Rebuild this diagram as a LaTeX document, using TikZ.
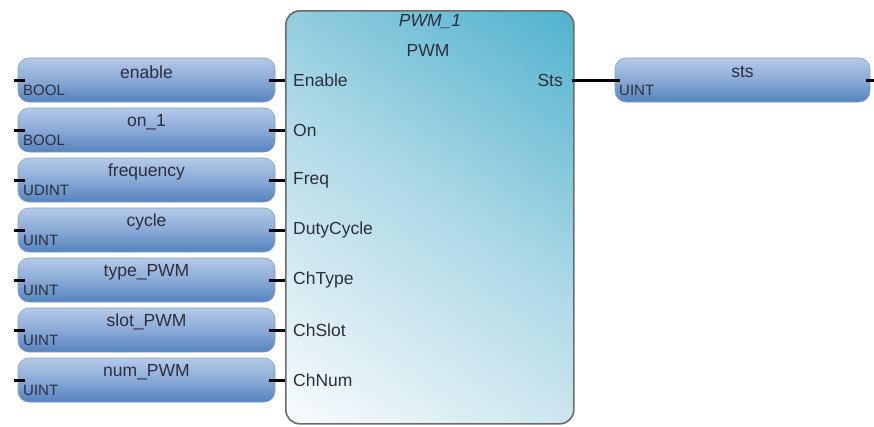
\documentclass[tikz,border=0pt]{standalone}
\usepackage{fontspec}
\setmainfont{Liberation Sans}
\definecolor{boxtop}{HTML}{B4CAE8}
\definecolor{boxmid}{HTML}{8AAAD6}
\definecolor{boxbot}{HTML}{5483BE}
\definecolor{boxedge}{HTML}{7D9DC9}
\definecolor{blkA}{HTML}{52B3CF}
\definecolor{blkM}{HTML}{AED9E6}
\definecolor{blkB}{HTML}{F8FBFD}
\definecolor{blkedge}{HTML}{6B6B6B}
\definecolor{txt}{HTML}{2E2E3C}
\pgfdeclareverticalshading{blkshade}{100bp}{color(0bp)=(blkB); color(16bp)=(blkB);
  color(52bp)=(blkM); color(84bp)=(blkA); color(100bp)=(blkA)}
\begin{document}
\begin{tikzpicture}[x=1pt,y=-1pt,
  varbox/.style={rounded corners=11pt, minimum width=257pt, minimum height=44pt,
    inner sep=0pt, top color=boxtop, bottom color=boxbot, middle color=boxmid,
    draw=boxedge, line width=0.6pt},
  block/.style={rounded corners=14pt, minimum width=288pt, minimum height=413pt,
    inner sep=0pt, shade, shading=blkshade, shading angle=-35,
    draw=blkedge, line width=1.6pt},
  nametxt/.style={text=txt, font=\fontsize{17.5}{20}\selectfont, inner sep=0pt},
  typetxt/.style={text=txt, font=\fontsize{15}{17}\selectfont, inner sep=0pt, anchor=west},
  pintxt/.style={text=txt, font=\fontsize{17.5}{20}\selectfont, inner sep=0pt},
  stub/.style={line width=3pt, black}]
\useasboundingbox (0,0) rectangle (874,426);

% function block
\node[block, anchor=north west] (blk) at (285,10) {};
\node[nametxt, font=\fontsize{17.5}{20}\selectfont\itshape] (inst) at (430,22) {PWM\_1};
\node[nametxt] (fb) at (428,50) {PWM};

% inputs
\foreach \nm/\ty/\pin [count=\i] in {enable/BOOL/Enable, on\_1/BOOL/On,
  frequency/UDINT/Freq, cycle/UINT/DutyCycle, type\_PWM/UINT/ChType,
  slot\_PWM/UINT/ChSlot, num\_PWM/UINT/ChNum} {
  \pgfmathsetmacro\yy{80+50*(\i-1)}
  \node[varbox] (v\i) at (146.5,\yy) {};
  \node[nametxt] (n\i) at (146.5,\yy-8) {\nm};
  \node[typetxt] (t\i) at (23,\yy+10) {\ty};
  \node[pintxt, anchor=west] (p\i) at (293,\yy) {\pin};
  \coordinate (l\i) at (14,\yy);
  \draw[stub] (l\i) -- ([xshift=7pt]v\i.west);
  \draw[stub] ([xshift=-6pt]v\i.east) -- (blk.west |- v\i.east);
}

% output
\node[varbox, minimum width=255pt] (o) at (742.5,80) {};
\node[nametxt] (on) at (742.5,72) {sts};
\node[typetxt] (ot) at (619,90) {UINT};
\node[pintxt, anchor=east] (ps) at (563,80) {Sts};
\coordinate (oe) at (874,80);
\draw[stub] ([xshift=-3pt]blk.east |- o.west) -- ([xshift=5pt]o.west);
\draw[stub] ([xshift=-4pt]o.east) -- (oe);
\end{tikzpicture}
\end{document}
